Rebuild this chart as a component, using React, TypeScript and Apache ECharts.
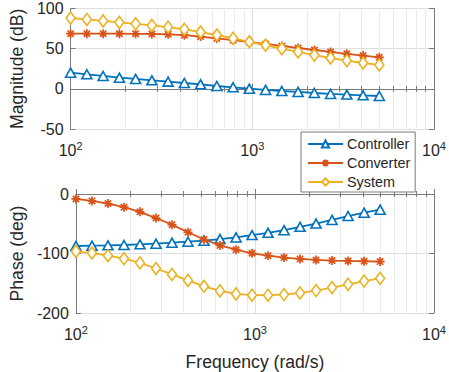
import React, { useEffect, useRef } from "react";
import * as echarts from "echarts";

const freq = [100, 122.9, 151.0, 185.5, 227.9, 280.0, 344.0, 422.6, 519.2, 637.9, 783.8, 962.9, 1183.1, 1453.6, 1785.9, 2194.2, 2695.8, 3312.2, 4069.4, 5000];
const magController = [20.2, 18.2, 16.1, 14.0, 12.4, 10.7, 9.1, 7.4, 5.8, 3.7, 2.1, 0.4, -1.2, -2.5, -3.7, -5.0, -6.2, -7.0, -7.9, -8.7];
const magConverter = [68.6, 68.6, 68.6, 68.5, 68.4, 68.2, 67.7, 66.7, 64.9, 62.6, 60.5, 58.2, 55.8, 53.3, 50.8, 48.3, 45.9, 43.6, 41.4, 39.2];
const magSystem = [88.0, 86.2, 84.4, 82.6, 80.8, 78.9, 76.6, 73.9, 70.6, 66.9, 62.8, 58.5, 54.2, 50.0, 45.9, 42.0, 38.4, 35.1, 32.2, 29.8];
const phaseController = [-87.4, -86.8, -86.3, -85.7, -84.6, -83.5, -81.8, -80.2, -78.5, -75.7, -73.0, -69.1, -65.2, -60.8, -55.2, -49.7, -43.6, -37.0, -31.4, -26.4];
const phaseConverter = [-8.3, -11.6, -16.0, -22.2, -29.9, -40.4, -51.5, -64.3, -76.5, -86.4, -93.6, -99.7, -103.6, -106.9, -109.1, -110.8, -111.9, -112.5, -113.0, -113.6];
const phaseSystem = [-96.4, -99.2, -103.6, -108.6, -115.8, -125.2, -135.2, -145.2, -155.1, -162.9, -167.9, -170.1, -170.1, -169.0, -166.2, -162.3, -157.3, -151.8, -146.3, -141.8];
const seriesNames = ["Controller", "Converter", "System"];
const magTicks = { min: -50, max: 100, interval: 50 };
const phaseTicks = { min: -200, max: 0, interval: 100 };

const COLORS = ["#0072BD", "#D95319", "#EDB120"];
const FONT = "Liberation Sans, Arial, Helvetica, sans-serif";
const TXT = "#262626";
const AXC = "#7a7a7a";
const ASTERISK = "path://M5,0 L5,10 M0,5 L10,5 M1.5,1.5 L8.5,8.5 M1.5,8.5 L8.5,1.5";

export default function App() {
  const ref = useRef<HTMLDivElement>(null);
  useEffect(() => {
    const chart = echarts.init(ref.current!, null, { renderer: "svg" });
    const pair = (ys: number[]) => freq.map((f, i) => [f, ys[i]]);
    const symbols = [
      { symbol: "triangle", symbolSize: [10, 9] },
      { symbol: ASTERISK, symbolSize: 9 },
      { symbol: "diamond", symbolSize: [9, 12] },
    ];
    const mags = [magController, magConverter, magSystem];
    const phases = [phaseController, phaseConverter, phaseSystem];
    const mkSeries = (k: number, ys: number[], axis: number) => ({
      name: seriesNames[k],
      type: "line",
      xAxisIndex: axis,
      yAxisIndex: axis,
      data: pair(ys),
      symbol: symbols[k].symbol,
      symbolSize: symbols[k].symbolSize,
      showAllSymbol: true,
      lineStyle: { color: COLORS[k], width: 1.8 },
      itemStyle: k === 1
        ? { color: COLORS[k], borderColor: COLORS[k], borderWidth: 1.7 }
        : { color: "#ffffff", borderColor: COLORS[k], borderWidth: 1.6 },
      emphasis: { disabled: true },
      z: 3 + k,
    });
    const series: any[] = [];
    for (let k = 0; k < 3; k++) series.push(mkSeries(k, mags[k], 0));
    for (let k = 0; k < 3; k++) series.push(mkSeries(k, phases[k], 2));

    const labelFmt = (v: number) => {
      const e = Math.round(Math.log10(v));
      return "{b|10}{s|" + e + "}";
    };
    const xBase = (grid: number, pos: "bottom" | "top", labels: boolean, extra: any = {}) => ({
      type: "log",
      logBase: 10,
      gridIndex: grid,
      position: pos,
      min: 100,
      max: 10000,
      axisLine: { show: true, lineStyle: { color: AXC, width: 1 } },
      axisTick: { show: true, inside: true, length: 5, lineStyle: { color: AXC } },
      minorTick: { show: true, splitNumber: 9, length: 3, lineStyle: { color: AXC } },
      splitLine: { show: labels, lineStyle: { color: "#dedede", width: 1 } },
      minorSplitLine: { show: labels, lineStyle: { color: "#ebebeb", width: 1 } },
      axisLabel: {
        show: labels,
        margin: 11,
        formatter: labelFmt,
        rich: {
          b: { fontSize: 16, color: TXT, fontFamily: FONT },
          s: { fontSize: 11, color: TXT, fontFamily: FONT, verticalAlign: "top", padding: [0, 0, 9, 0] },
        },
      },
      ...extra,
    });
    const yBase = (grid: number, pos: "left" | "right", labels: boolean, t: any, extra: any = {}) => ({
      type: "value",
      gridIndex: grid,
      position: pos,
      min: t.min,
      max: t.max,
      interval: t.interval,
      axisLine: { show: true, lineStyle: { color: AXC, width: 1 } },
      axisTick: { show: true, inside: true, length: 5, lineStyle: { color: AXC } },
      splitLine: { show: labels, lineStyle: { color: "#dedede", width: 1 } },
      axisLabel: { show: labels, fontSize: 16, color: TXT, fontFamily: FONT, margin: 7 },
      ...extra,
    });
    const yName = (name: string) => ({
      name,
      nameLocation: "middle",
      nameGap: 40,
      nameTextStyle: { fontSize: 17.6, color: TXT, fontFamily: FONT },
    });

    chart.setOption({
      animation: false,
      backgroundColor: "#ffffff",
      textStyle: { fontFamily: FONT },
      grid: [
        { left: 66.5, top: 8.3, width: 371.2, height: 121 },
        { left: 66.5, top: 194, width: 371.2, height: 120.3 },
      ],
      xAxis: [
        xBase(0, "bottom", true),
        xBase(0, "top", false),
        xBase(1, "bottom", true, {
          name: "Frequency (rad/s)",
          nameLocation: "middle",
          nameGap: 40,
          nameTextStyle: { fontSize: 17.6, color: TXT, fontFamily: FONT },
        }),
        xBase(1, "top", false),
      ],
      yAxis: [
        yBase(0, "left", true, magTicks, yName("Magnitude (dB)")),
        yBase(0, "right", false, magTicks),
        yBase(1, "left", true, phaseTicks, yName("Phase (deg)")),
        yBase(1, "right", false, phaseTicks),
      ],
      legend: {
        data: seriesNames,
        orient: "vertical",
        left: 301,
        top: 132,
        backgroundColor: "#ffffff",
        borderColor: AXC,
        borderWidth: 1,
        borderRadius: 0,
        padding: [5, 5, 3, 6],
        itemGap: 5,
        itemWidth: 35,
        itemHeight: 9,
        textStyle: { fontSize: 14.4, color: TXT, fontFamily: FONT, padding: [0, 0, 0, -1] },
        z: 10,
      },
      series,
    });
    return () => chart.dispose();
  }, []);
  return <div ref={ref} style={{ position: "fixed", left: 0, top: 0, width: 449, height: 372 }} />;
}
